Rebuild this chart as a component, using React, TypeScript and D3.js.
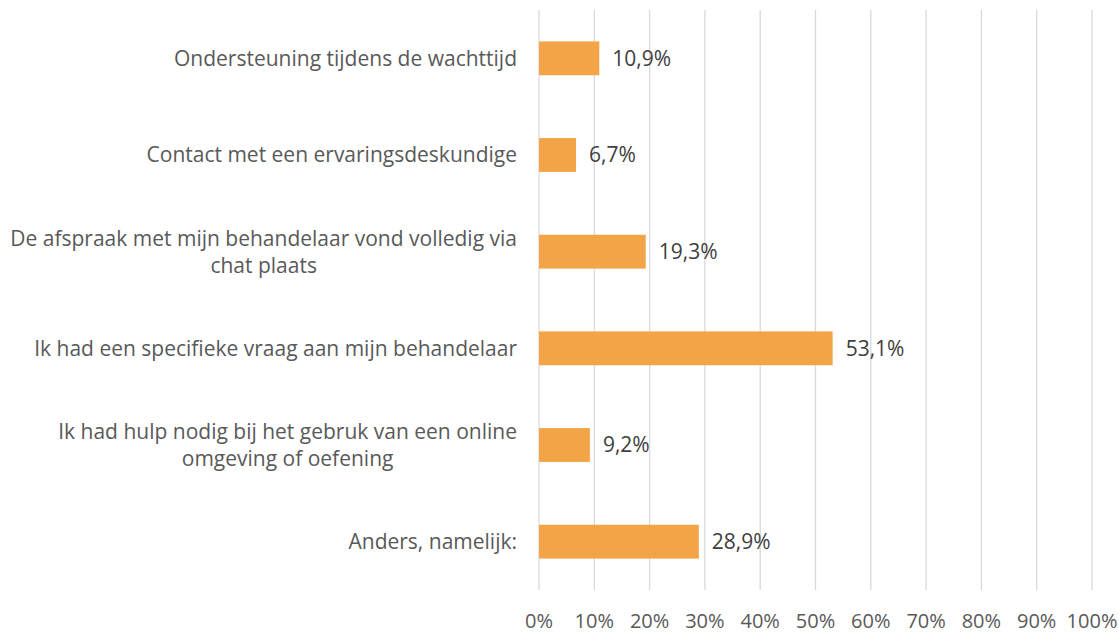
import React, { useEffect, useRef } from "react";
import * as d3 from "d3";

const categories: string[][] = [
  ["Ondersteuning tijdens de wachttijd"],
  ["Contact met een ervaringsdeskundige"],
  ["De afspraak met mijn behandelaar vond volledig via", "chat plaats"],
  ["Ik had een specifieke vraag aan mijn behandelaar"],
  ["Ik had hulp nodig bij het gebruk van een online", "omgeving of oefening"],
  ["Anders, namelijk:"],
];
const values: number[] = [10.9, 6.7, 19.3, 53.1, 9.2, 28.9];
const ticks: number[] = [0, 10, 20, 30, 40, 50, 60, 70, 80, 90, 100];

const W = 1119;
const H = 633;
const FONT = "'Open Sans', sans-serif";
const FS = 21;

export default function App() {
  const ref = useRef<SVGSVGElement>(null);
  useEffect(() => {
    const svg = d3.select(ref.current);
    svg.selectAll("*").remove();
    const x = d3.scaleLinear().domain([0, 100]).range([539, 1092]);
    const y = d3
      .scaleBand<number>()
      .domain(d3.range(categories.length))
      .range([10, 590])
      .paddingInner(0.65)
      .paddingOuter(0.325);

    svg
      .append("g")
      .selectAll("line")
      .data(ticks)
      .join("line")
      .attr("x1", (d) => x(d))
      .attr("x2", (d) => x(d))
      .attr("y1", 10)
      .attr("y2", 590)
      .attr("stroke", "#d9d9d9")
      .attr("stroke-width", 1.3);

    svg
      .append("g")
      .selectAll("text")
      .data(ticks)
      .join("text")
      .attr("x", (d) => x(d))
      .attr("y", 628)
      .attr("text-anchor", "middle")
      .attr("font-family", FONT)
      .attr("font-size", 20)
      .attr("fill", "#595959")
      .text((d) => `${d}%`);

    svg
      .append("g")
      .selectAll("rect")
      .data(values)
      .join("rect")
      .attr("x", x(0))
      .attr("y", (_, i) => y(i)!)
      .attr("width", (d) => x(d) - x(0))
      .attr("height", y.bandwidth())
      .attr("fill", "#f2a446");

    svg
      .append("g")
      .selectAll("text")
      .data(values)
      .join("text")
      .attr("x", (d) => x(d) + 13)
      .attr("y", (_, i) => y(i)! + y.bandwidth() / 2)
      .attr("dy", "0.35em")
      .attr("font-family", FONT)
      .attr("font-size", FS)
      .attr("fill", "#404040")
      .text((d) => `${d.toFixed(1).replace(".", ",")}%`);

    const lineH = 27;
    const g = svg.append("g");
    categories.forEach((lines, i) => {
      const cy = y(i)! + y.bandwidth() / 2;
      const t = g
        .append("text")
        .attr("font-family", FONT)
        .attr("font-size", FS)
        .attr("fill", "#595959")
        .attr("text-anchor", "middle");
      const spans = lines.map((ln, j) =>
        t
          .append("tspan")
          .attr("y", cy + (j - (lines.length - 1) / 2) * lineH)
          .attr("dy", "0.35em")
          .text(ln)
      );
      const widths = spans.map((s) => (s.node() as SVGTSpanElement).getComputedTextLength());
      const w = Math.max(...widths);
      spans.forEach((s) => s.attr("x", 517 - w / 2));
    });
  }, []);
  return <svg ref={ref} width={W} height={H} style={{ position: "absolute", left: 0, top: 0 }} />;
}
